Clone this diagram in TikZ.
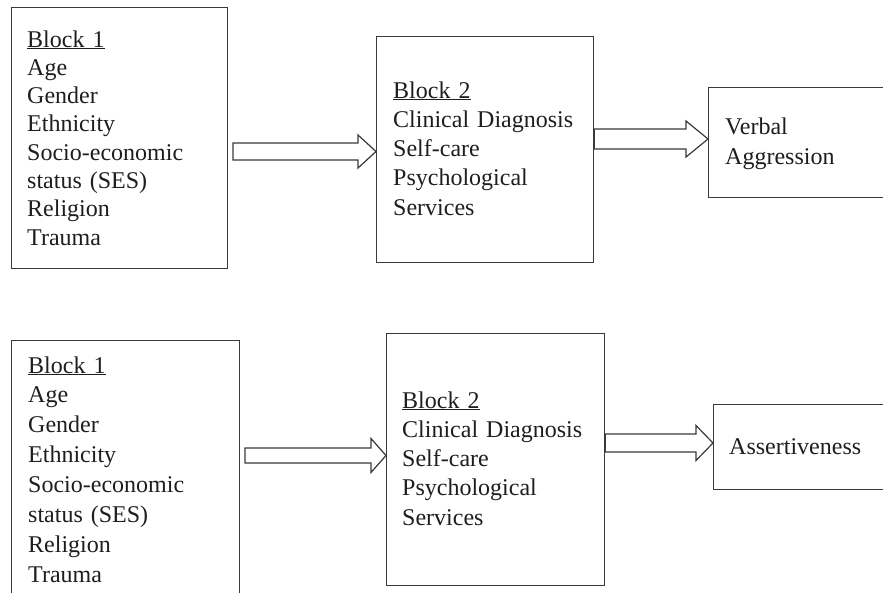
\documentclass[tikz,border=0pt]{standalone}
\usepackage{fontspec}
\setmainfont{Liberation Serif}
\usetikzlibrary{calc}
\definecolor{lineclr}{HTML}{3A3A3A}
\definecolor{txtclr}{HTML}{1E1E1E}
\tikzset{
  box/.style={draw=lineclr, line width=1.3pt, fill=none, inner sep=0pt, anchor=north west},
  txt/.style={text=txtclr, inner sep=0pt, anchor=base west, text width=230pt, align=left},
  barrow/.style={draw=lineclr, line width=1.2pt, fill=white, line join=miter}
}
% #1 start, #2 end, #3 shaft half, #4 head half, #5 head length
\newcommand{\blockarrow}[5]{%
  \draw[barrow] ($(#1)+(0,#3)$) -- ($(#2)+(-#5,#3)$) -- ($(#2)+(-#5,#4)$) -- (#2)
    -- ($(#2)+(-#5,-#4)$) -- ($(#2)+(-#5,-#3)$) -- ($(#1)+(0,-#3)$) -- cycle;}
\begin{document}
\begin{tikzpicture}[x=1pt,y=-1pt]
\useasboundingbox (0,0) rectangle (883,592);
\clip (0,0) rectangle (883,592);
\fill[white] (0,0) rectangle (883,592);

% top row
\node[box, minimum width=216pt, minimum height=261pt] (t1) at (11,7) {};
\node[box, minimum width=217pt, minimum height=226pt] (t2) at (376,36) {};
\node[box, minimum width=190pt, minimum height=110pt] (t3) at (708,87) {};

\node[txt, font={\fontsize{24}{28.3}\selectfont}] (t1txt) at (27,47)
  {\underline{Block 1}\\Age\\Gender\\Ethnicity\\Socio-economic\\status (SES)\\Religion\\Trauma};
\node[txt, font={\fontsize{24}{29.25}\selectfont}] (t2txt) at (393,98)
  {\underline{Block 2}\\Clinical Diagnosis\\Self-care\\Psychological\\Services};
\node[txt, font={\fontsize{24}{30}\selectfont}] (t3txt) at (725,134)
  {Verbal\\Aggression};

\coordinate (a1s) at (233,151.5);
\coordinate (a1e) at (t2.west |- a1s);
\blockarrow{a1s}{a1e}{8.5}{16.5}{18}
\coordinate (a2s) at ($(t2.east |- 0,139)+(0,0)$);
\coordinate (a2e) at (t3.west |- a2s);
\blockarrow{a2s}{a2e}{10}{18}{22}

% bottom row
\node[box, minimum width=228pt, minimum height=280pt] (b1) at (11,340) {};
\node[box, minimum width=218pt, minimum height=252pt] (b2) at (386,333) {};
\node[box, minimum width=190pt, minimum height=85pt] (b3) at (713,404) {};

\node[txt, font={\fontsize{24}{29.9}\selectfont}] (b1txt) at (28,373)
  {\underline{Block 1}\\Age\\Gender\\Ethnicity\\Socio-economic\\status (SES)\\Religion\\Trauma};
\node[txt, font={\fontsize{24}{29.3}\selectfont}] (b2txt) at (402,408)
  {\underline{Block 2}\\Clinical Diagnosis\\Self-care\\Psychological\\Services};
\node[txt, font={\fontsize{24}{30}\selectfont}] (b3txt) at (729,454)
  {Assertiveness};

\coordinate (a3s) at (245,455.5);
\coordinate (a3e) at (b2.west |- a3s);
\blockarrow{a3s}{a3e}{7.5}{17}{15}
\coordinate (a4s) at (b2.east |- 0,443);
\coordinate (a4e) at (b3.west |- a4s);
\blockarrow{a4s}{a4e}{9}{17.5}{17}
\end{tikzpicture}
\end{document}
